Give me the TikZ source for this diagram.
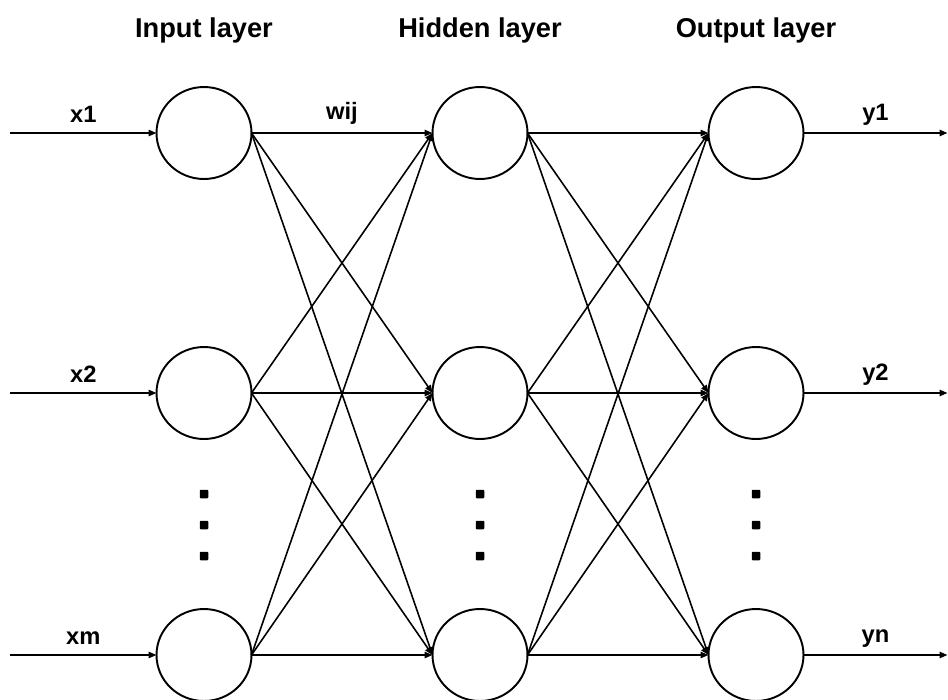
\documentclass[tikz,border=0pt]{standalone}
\usepackage{fontspec}
\setmainfont{Liberation Sans}
\usetikzlibrary{calc, arrows.meta, positioning, shapes.geometric}
\tikzstyle{neuron} =[draw, ellipse, line width=1.1pt, minimum width=1.9cm, minimum height=1.84cm, inner sep=0pt, outer sep=0pt]
\tikzstyle{layername} =[anchor=base, font=\fontsize{15.5}{18}\selectfont\bfseries]
\tikzstyle{iolabel} =[anchor=base, font=\fontsize{13.5}{16}\selectfont\bfseries]
\tikzstyle{wire} =[-{Triangle[length=4.5pt,width=3.6pt]}, line width=0.9pt]
\tikzstyle{dotmark} =[fill, rectangle, rounded corners=0.5pt, minimum size=0.17cm, inner sep=0pt]

\begin{document}
\begin{tikzpicture}[x=0.02cm, y=-0.02cm]
        \useasboundingbox (0,0) rectangle (948,700);

        % Layer titles
        \node[layername] (tin) at (204,37) {Input layer};
        \node[layername] (thid) at (480,37) {Hidden layer};
        \node[layername] (tout) at (756,37) {Output layer};

        %% Neurons and dots
        \foreach \l/\x in {i/204, h/480, o/756} {
                \foreach \r/\y in {1/133, 2/393, 3/655}
                        \node[neuron] (\l\r) at (\x,\y) {};
                \foreach \y in {494,525,556}
                        \node[dotmark] (\l dot\y) at (\x,\y) {};
            }

        %% Weights
        \foreach \a in {1,2,3} {
                \foreach \b in {1,2,3} {
                        \draw[wire] (i\a.east) -- (h\b.west);
                        \draw[wire] (h\a.east) -- (o\b.west);
                    }
            }

        % Inputs and outputs
        \foreach \r/\xl/\yl in {1/x1/y1, 2/x2/y2, 3/xm/yn} {
                \path (i\r.west) ++(-146.5,0) coordinate (in\r);
                \path (o\r.east) ++(144,0) coordinate (out\r);
                \draw[wire] (in\r) -- (i\r.west);
                \draw[wire] (o\r.east) -- (out\r);
                \node[iolabel] (lx\r) at ($(in\r)!0.5!(i\r.west) + (0,-11)$) {\xl};
                \node[iolabel] (ly\r) at ($(o\r.east)!0.5!(out\r) + (0,-13)$) {\yl};
            }

        \node[iolabel] (wlab) at ($(i1.east)!0.5!(h1.west) + (0,-14)$) {wij};

    \end{tikzpicture}
\end{document}
